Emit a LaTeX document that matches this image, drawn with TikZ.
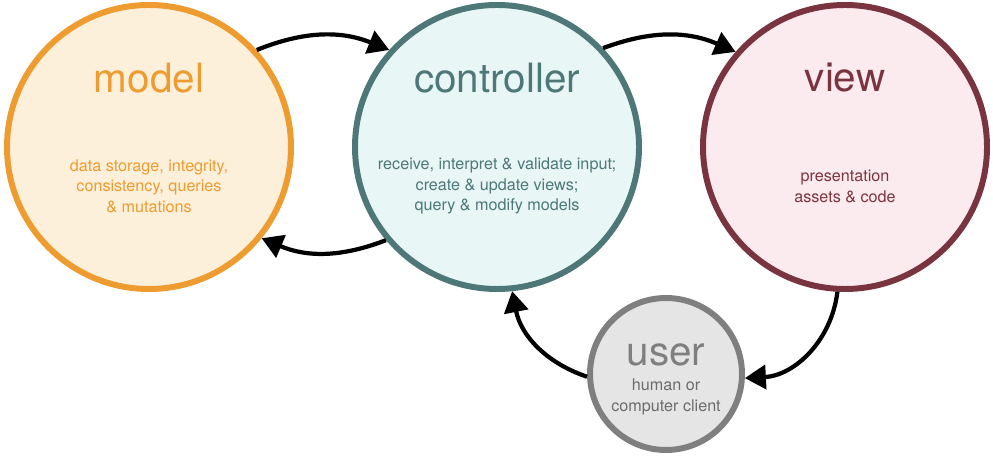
\documentclass[tikz,border=0pt]{standalone}
\usepackage{fontspec}
\setmainfont{TeX Gyre Heros}
\usepackage{tikz}
\usetikzlibrary{arrows.meta, positioning}

\definecolor{modelline}{HTML}{EE9B2F}
\definecolor{modelfill}{HTML}{FDF0DA}
\definecolor{ctrlline}{HTML}{4E7878}
\definecolor{ctrlfill}{HTML}{E8F6F5}
\definecolor{viewline}{HTML}{7A3440}
\definecolor{viewfill}{HTML}{FCEBEE}
\definecolor{userline}{HTML}{7F7F7F}
\definecolor{userfill}{HTML}{E5E5E5}

\begin{document}
\begin{tikzpicture}[-,auto,node distance=6.96cm,
                    main node/.style={circle,draw,line width=3.4pt,inner sep=0pt,minimum size=5.68cm},
                    title/.style={font=\fontsize{23}{28}\selectfont},
                    desc/.style={align=center,font=\fontsize{9.2}{11.6}\selectfont},
                    flow/.style={-{Triangle[length=0.42cm,width=0.48cm]},line width=2.4pt,black}]

 \useasboundingbox (0,0) rectangle (19.86,-9.16);

 \node[main node,draw=modelline,fill=modelfill] (model) at (2.98,-2.94) {};
 \node[main node,draw=ctrlline,fill=ctrlfill] (controller) [right of=model] {};
 \node[main node,draw=viewline,fill=viewfill] (view) [right of=controller] {};
 \node[main node,draw=userline,fill=userfill,minimum size=3.04cm] (user) at (13.32,-7.48) {};

 % titles
 \node[title,text=modelline] (model title) at ([yshift=1.38cm]model.center) {model};
 \node[title,text=ctrlline] (controller title) at ([yshift=1.38cm]controller.center) {controller};
 \node[title,text=viewline] (view title) at ([yshift=1.38cm]view.center) {view};
 \node[title,text=userline] (user title) at ([yshift=0.38cm]user.center) {user};

 % descriptions
 \node[desc,text=modelline] (model text) at ([yshift=-0.78cm]model.center)
   {data storage, integrity,\\consistency, queries\\\& mutations};
 \node[desc,text=ctrlline] (controller text) at ([yshift=-0.78cm]controller.center)
   {receive, interpret \& validate input;\\create \& update views;\\query \& modify models};
 \node[desc,text=viewline] (view text) at ([yshift=-0.79cm]view.center)
   {presentation\\assets \& code};
 \node[desc,text=userline!85!black] (user text) at ([yshift=-0.46cm]user.center)
   {human or\\computer client};

 \path
 (model.42) edge[flow,bend left=22] (controller.138)
 (controller.220) edge[flow,bend left=22] (model.321)
 (controller.43) edge[flow,bend left=22] (view.139)
 (view.267) edge[flow,bend left=40] (user.357)
 (user.182) edge[flow,bend left=30] (controller.276);

\end{tikzpicture}
\end{document}
